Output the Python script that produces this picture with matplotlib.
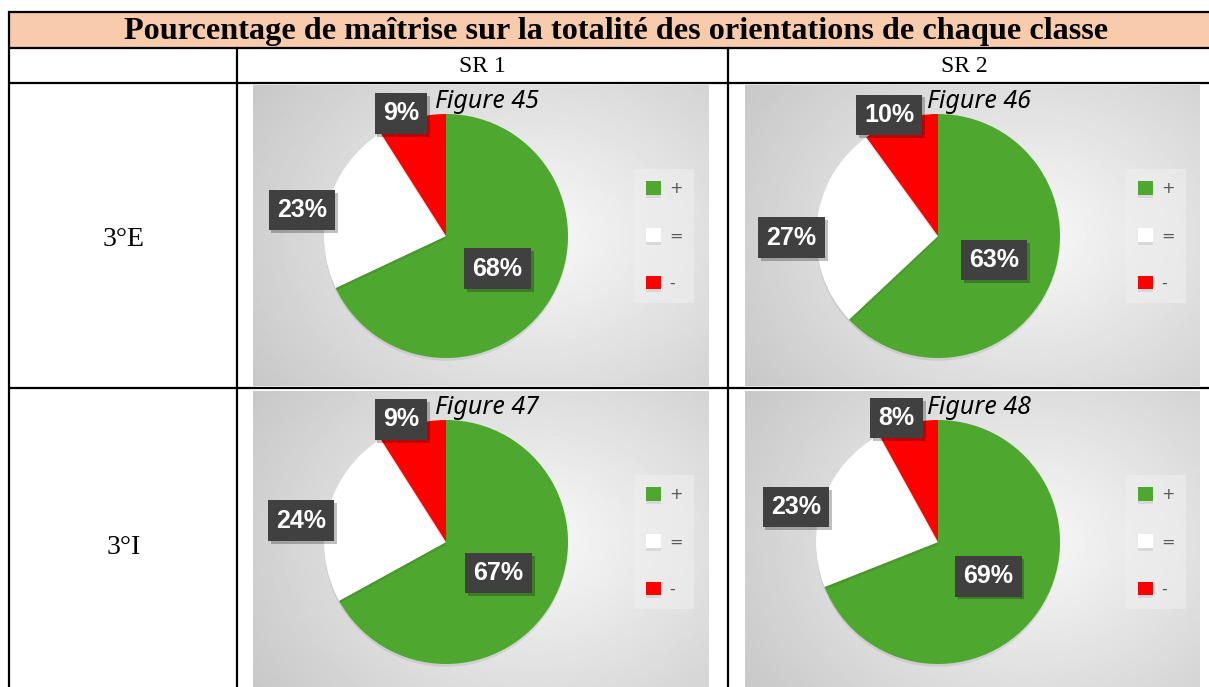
import numpy as np
import matplotlib.pyplot as plt
import matplotlib.patheffects as pe
from matplotlib.patches import Rectangle

W, H = 1209, 687

# ---- data ----
title = "Pourcentage de maîtrise sur la totalité des orientations de chaque classe"
columns = ["SR 1", "SR 2"]
rows = ["3°E", "3°I"]
figure_names = [["Figure 45", "Figure 46"], ["Figure 47", "Figure 48"]]
categories = ["+", "=", "-"]
values_3E = [[68, 23, 9], [63, 27, 10]]
values_3I = [[67, 24, 9], [69, 23, 8]]
all_values = [values_3E, values_3I]
colors = ["#4EA72E", "#FFFFFF", "#FF0000"]

# ---- layout (pixels) ----
col_lines = [9, 237, 728]
row_lines = [12, 48, 83, 388]
panel_x = [(253, 709), (745, 1200)]
panel_y = [(85, 386), (391, 692)]
R = 122
label_dist = [0.5, 1.2, 1.07]
label_turn = [0, 6, 4]  # degrees, data label nudge


def fig_rect(x0, y0, x1, y1):
    return [x0 / W, 1 - y1 / H, (x1 - x0) / W, (y1 - y0) / H]


fig = plt.figure(figsize=(W / 100, H / 100), dpi=100)

# gradient background for one chart panel
gy, gx = np.mgrid[0:1:300j, 0:1:456j]
dist = np.sqrt(((gx - 0.62) / 0.62) ** 2 + ((gy - 0.5) / 0.75) ** 2)
grad = np.clip(0.975 - 0.16 * dist, 0, 1)

for i in range(2):
    for j in range(2):
        x0, x1 = panel_x[j]
        y0, y1 = panel_y[i]
        pax = fig.add_axes(fig_rect(x0, y0, x1, y1), zorder=1)
        pax.imshow(grad, cmap="gray", vmin=0, vmax=1, aspect="auto",
                   extent=(0, 1, 0, 1), interpolation="bilinear")
        pax.set_xlim(0, 1)
        pax.set_ylim(0, 1)
        pax.axis("off")

        cx, cy = x0 + 193, y0 + 151
        ax = fig.add_axes(fig_rect(cx - R, cy - R, cx + R, cy + R), zorder=2)
        vals = all_values[i][j]
        wedges, _ = ax.pie(vals, colors=colors, startangle=90, counterclock=False,
                           wedgeprops=dict(linewidth=0))
        for w in wedges:
            w.set_path_effects([pe.SimplePatchShadow(offset=(0, -2), shadow_rgbFace="k", alpha=0.08),
                                pe.Normal()])
        ax.set_xlim(-1, 1)
        ax.set_ylim(-1, 1)
        ax.set_aspect("equal")
        ax.axis("off")

        for w, v, d, turn in zip(wedges, vals, label_dist, label_turn):
            ang = np.deg2rad((w.theta1 + w.theta2) / 2 + turn)
            t = ax.text(d * np.cos(ang), d * np.sin(ang), f"{v}%", ha="center", va="center",
                        color="white", fontsize=18, fontweight="bold", family="Liberation Sans",
                        zorder=5,
                        bbox=dict(boxstyle="square,pad=0.33", facecolor="#404040",
                                  edgecolor="none", linewidth=0))
            t.get_bbox_patch().set_path_effects([
                pe.SimplePatchShadow(offset=(2, -2), shadow_rgbFace="k", alpha=0.25),
                pe.Normal()])

        leg = ax.legend(wedges, categories, loc="center",
                        bbox_to_anchor=((x0 + 411) / W, 1 - (cy) / H),
                        bbox_transform=fig.transFigure, fontsize=11.5,
                        frameon=True, fancybox=False, facecolor="#f0f0f0",
                        edgecolor="none", framealpha=0.55, handlelength=0.95,
                        handleheight=0.95, handletextpad=0.5, labelspacing=2.0,
                        borderpad=0.72, labelcolor="#595959")
        leg.get_frame().set_linewidth(0)

# ---- table on top ----
base = fig.add_axes([0, 0, 1, 1], zorder=5)
base.set_xlim(0, W)
base.set_ylim(H, 0)
base.axis("off")
base.patch.set_visible(False)

base.add_patch(Rectangle((col_lines[0], row_lines[0]), W + 10, row_lines[1] - row_lines[0],
                         facecolor="#F8CBAD", edgecolor="none"))
lw = 1.6
for yl in row_lines:
    base.plot([col_lines[0], W + 5], [yl, yl], color="black", lw=lw, solid_capstyle="butt")
base.plot([col_lines[0], col_lines[0]], [row_lines[0], H + 5], color="black", lw=lw)
for xl in col_lines[1:]:
    base.plot([xl, xl], [row_lines[1], H + 5], color="black", lw=lw)

base.text(616, 31, title, ha="center", va="center", fontsize=23.2, fontweight="bold",
          family="Liberation Serif")
header_x = [482, 964]
for j, c in enumerate(columns):
    base.text(header_x[j], 66, c, ha="center", va="center", fontsize=17,
              family="Liberation Serif")
for i, r in enumerate(rows):
    base.text(124, [239, 548][i], r, ha="center", va="center", fontsize=20,
              family="Liberation Serif")
for i in range(2):
    for j in range(2):
        x0, x1 = panel_x[j]
        y0, _ = panel_y[i]
        base.text((x0 + x1) / 2 + 6, y0 + 16, figure_names[i][j], ha="center", va="center",
                  fontsize=18, style="italic", family="Noto Sans")

fig.savefig("out.png", dpi=100)
